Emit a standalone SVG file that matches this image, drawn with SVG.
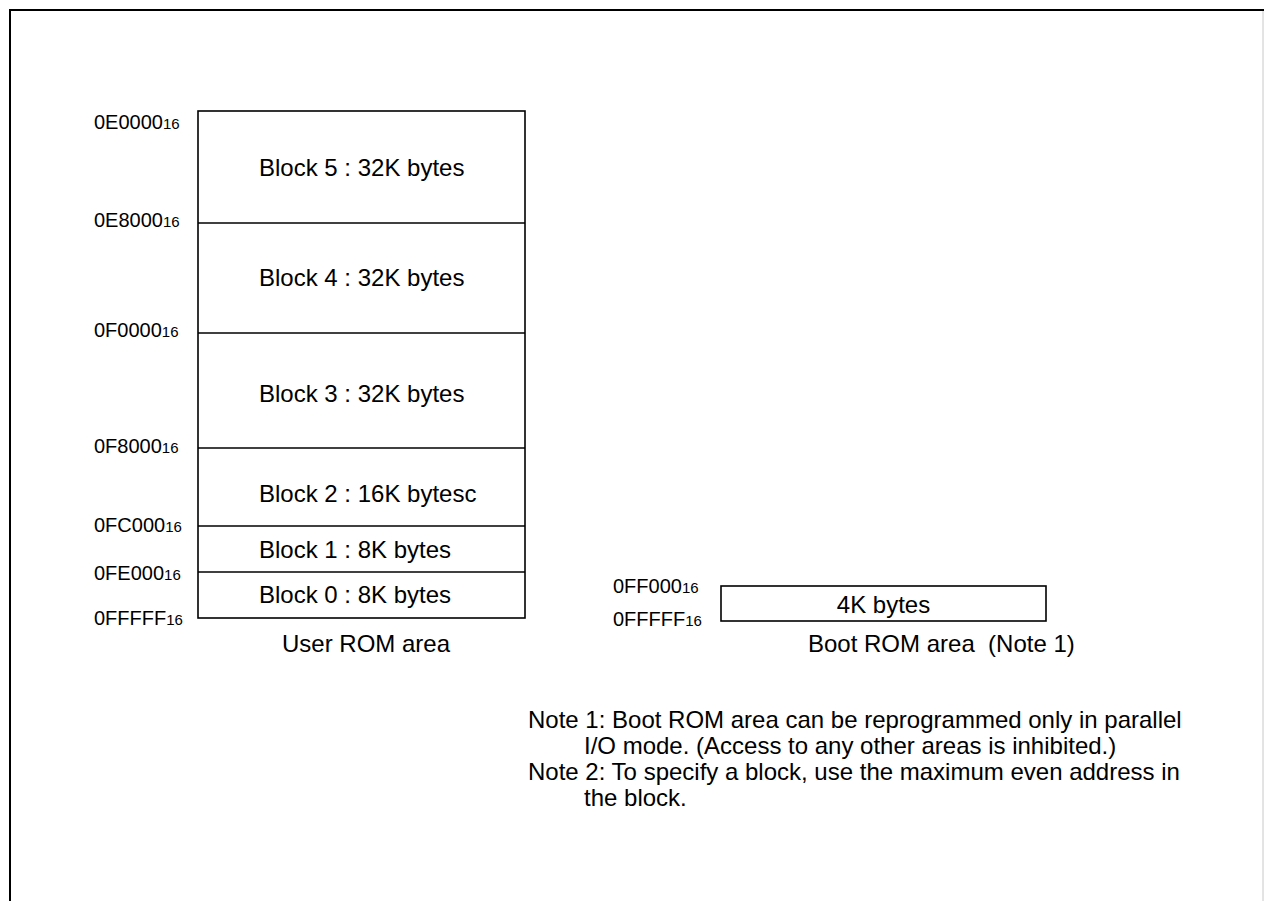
<svg xmlns="http://www.w3.org/2000/svg" width="1264" height="901" viewBox="0 0 1264 901">
<style>
text{font-family:"Liberation Sans",Arial,sans-serif;fill:#000}
.addr{font-size:20px}
.sub{font-size:15px}
.lbl{font-size:24px}
.box{fill:#fff;stroke:#000;stroke-width:1.6}
.div{stroke:#000;stroke-width:1.4;fill:none}
</style>
<rect x="0" y="0" width="1264" height="901" fill="#fff"/>
<g id="frame">
<path d="M10,901 V10 H1264" fill="none" stroke="#000" stroke-width="2"/>
<line x1="1263" y1="11" x2="1263" y2="901" stroke="#c8c8c8" stroke-width="1"/>
</g>
<g id="user-rom">
<rect class="box" x="198" y="111" width="327" height="507"/>
<g id="connectors">
<line class="div" x1="198" y1="223" x2="525" y2="223"/>
<line class="div" x1="198" y1="333" x2="525" y2="333"/>
<line class="div" x1="198" y1="448" x2="525" y2="448"/>
<line class="div" x1="198" y1="526" x2="525" y2="526"/>
<line class="div" x1="198" y1="572" x2="525" y2="572"/>
</g>
<g id="block5"><text class="lbl" x="259" y="175.5">Block 5 : 32K bytes</text></g>
<g id="block4"><text class="lbl" x="259" y="285.5">Block 4 : 32K bytes</text></g>
<g id="block3"><text class="lbl" x="259" y="401.5">Block 3 : 32K bytes</text></g>
<g id="block2"><text class="lbl" x="259" y="501.5">Block 2 : 16K bytesc</text></g>
<g id="block1"><text class="lbl" x="259" y="557.5">Block 1 : 8K bytes</text></g>
<g id="block0"><text class="lbl" x="259" y="602.5">Block 0 : 8K bytes</text></g>
<text class="lbl" x="282" y="652">User ROM area</text>
</g>
<g id="user-addresses">
<text class="addr" x="94" y="129">0E0000<tspan class="sub">16</tspan></text>
<text class="addr" x="94" y="227">0E8000<tspan class="sub">16</tspan></text>
<text class="addr" x="94" y="337">0F0000<tspan class="sub">16</tspan></text>
<text class="addr" x="94" y="453">0F8000<tspan class="sub">16</tspan></text>
<text class="addr" x="94" y="532">0FC000<tspan class="sub">16</tspan></text>
<text class="addr" x="94" y="580">0FE000<tspan class="sub">16</tspan></text>
<text class="addr" x="94" y="625">0FFFFF<tspan class="sub">16</tspan></text>
</g>
<g id="boot-rom">
<rect class="box" x="721" y="586" width="325" height="35"/>
<text class="lbl" x="883.5" y="613" text-anchor="middle">4K bytes</text>
<text class="addr" x="613" y="593">0FF000<tspan class="sub">16</tspan></text>
<text class="addr" x="613" y="626">0FFFFF<tspan class="sub">16</tspan></text>
<text class="lbl" x="808" y="652">Boot ROM area&#160; (Note 1)</text>
</g>
<g id="notes">
<text class="lbl" x="528" y="728">Note 1: Boot ROM area can be reprogrammed only in parallel</text>
<text class="lbl" x="584" y="754">I/O mode. (Access to any other areas is inhibited.)</text>
<text class="lbl" x="528" y="780">Note 2: To specify a block, use the maximum even address in</text>
<text class="lbl" x="584" y="806">the block.</text>
</g>
</svg>
